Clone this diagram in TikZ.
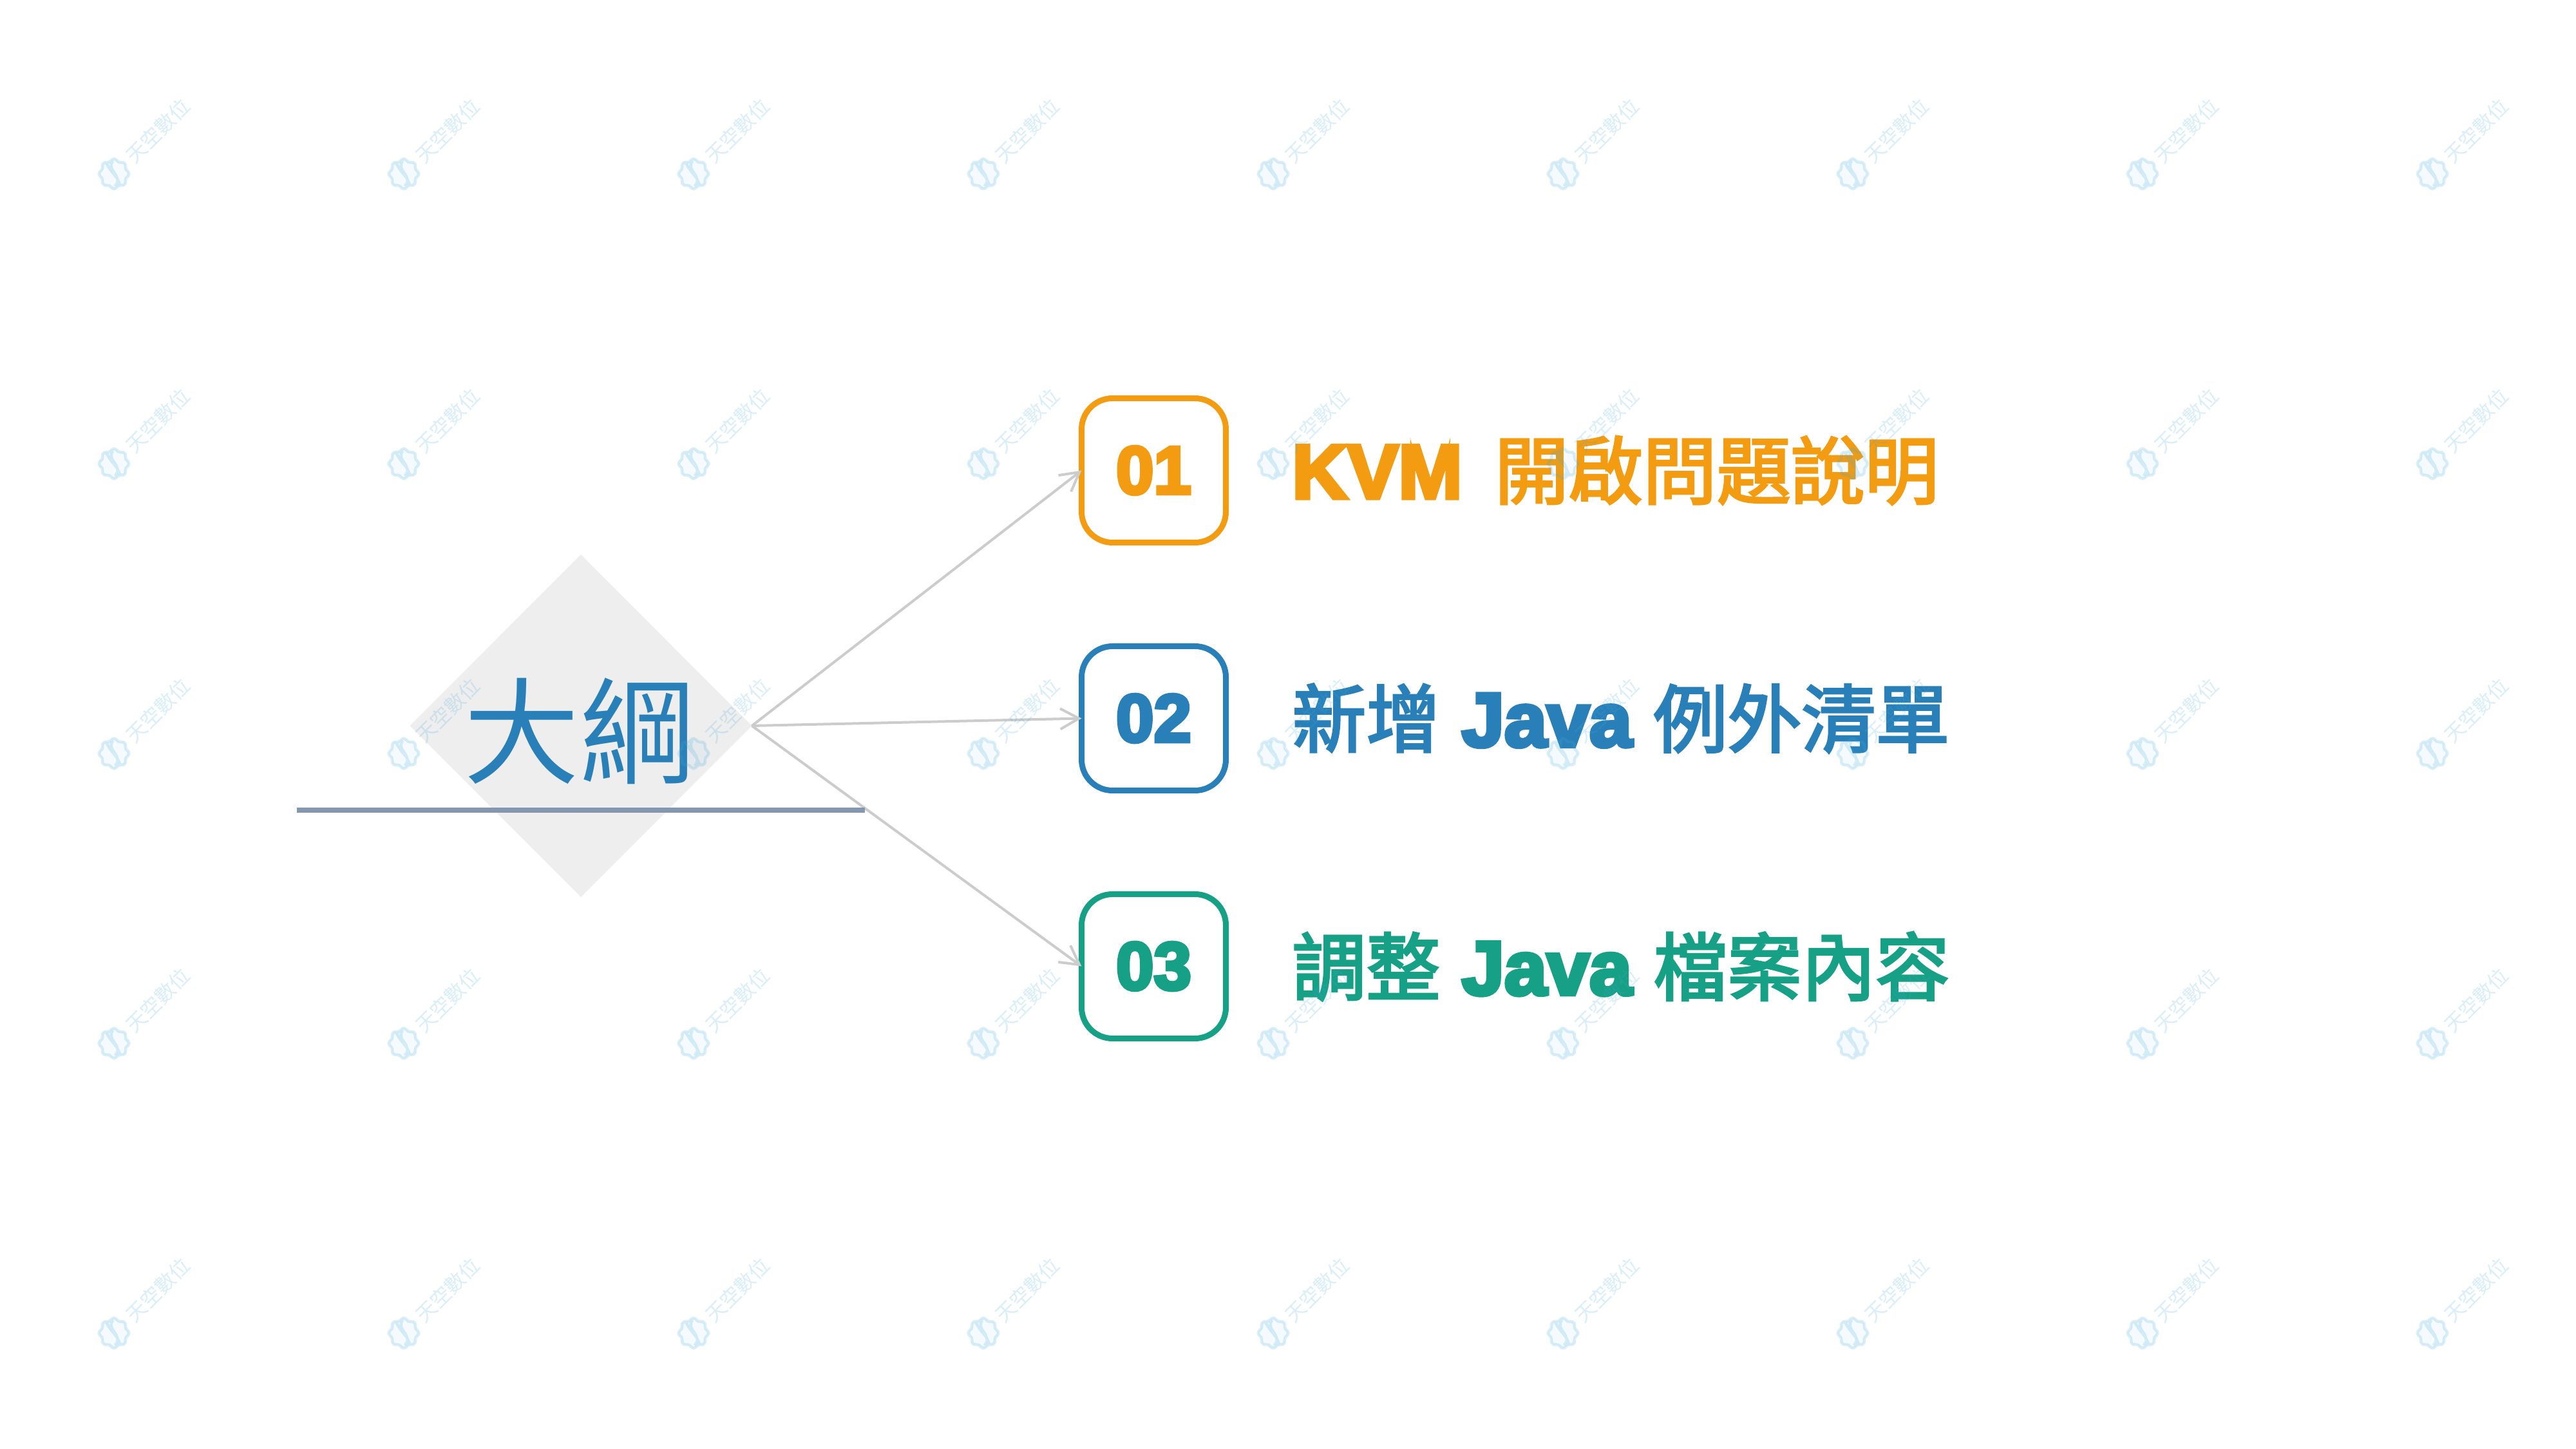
\documentclass[tikz,border=0pt]{standalone}
\usepackage{fontspec}
\usetikzlibrary{positioning,shapes.geometric,arrows.meta}
\setmainfont{Noto Sans CJK TC}
\newfontfamily\heavyfont[BoldFeatures={FakeBold=5}]{Liberation Sans}
\newfontfamily\cjkheavy[FakeBold=3, WordSpace=1.3]{Noto Sans CJK TC}
\newcommand{\lat}[1]{{\heavyfont\bfseries\fontsize{33.8}{36}\selectfont #1}}
\definecolor{orangec}{HTML}{F39C12}
\definecolor{bluec}{HTML}{2980B9}
\definecolor{greenc}{HTML}{16A085}
\definecolor{rulec}{HTML}{8497B0}
\definecolor{diamondc}{HTML}{EEEEEE}
\definecolor{arrowc}{HTML}{CCCCCC}
\definecolor{markc}{HTML}{3FA9DC}

\begin{document}
\begin{tikzpicture}[node distance={3.85cm},
	numbox/.style = {draw=#1, text=#1, line width=0.09cm, rounded corners=0.48cm, minimum size=2.24cm, inner sep=0pt, outer sep=0pt, font=\heavyfont\bfseries\fontsize{29.9}{32}\selectfont},
	rowtext/.style = {text=#1, inner sep=0pt, outer sep=0pt, font=\cjkheavy\fontsize{32.7}{36}\selectfont},
	link/.style = {draw=arrowc, line width=0.04cm, -{Straight Barb[length=0.29cm, width=0.32cm, line width=0.04cm]}},
	wmtext/.style = {text=markc, opacity=0.2, text opacity=0.2, inner sep=0pt, rotate=45, font=\fontsize{8.9}{9}\selectfont},
	wmlogo/.pic = {
		\draw[draw=markc, opacity=0.2, line width=0.045cm, fill=markc, fill opacity=0.06]
			plot[domain=0:350, samples=36, smooth cycle] ({(0.215+0.018*cos(8*\x))*cos(\x)}, {(0.215+0.018*cos(8*\x))*sin(\x)})
			(-0.12,0.17) .. controls (-0.02,-0.02) and (0.02,0.02) .. (0.10,-0.19)
			(-0.02,0.20) .. controls (-0.12,0.03) and (0.14,0.00) .. (0.02,-0.19);
	}]
	\useasboundingbox (0,0) rectangle (40,-22.5);
	\node[diamond, fill=diamondc, minimum width=5.31cm, minimum height=5.32cm, inner sep=0pt, outer sep=0pt] (diamond) at (9.02,-11.27) {};
	\node[text=bluec, inner sep=0pt, font=\fontsize{51}{54}\selectfont] (title) at (9.0,-11.35) {大綱};
	\node[numbox=orangec] (1) at (17.915,-7.305) {01};
	\node[numbox=bluec] (2) [below of=1] {02};
	\node[numbox=greenc] (3) [below of=2] {03};
	\node[rowtext=orangec] (text1) [right=1.03cm of 1] {\lat{KVM}\hspace{0.17cm} 開啟問題說明};
	\node[rowtext=bluec] (text2) [right=1.03cm of 2] {新增 \lat{Java} 例外清單};
	\node[rowtext=greenc] (text3) [right=1.03cm of 3] {調整 \lat{Java} 檔案內容};
	\coordinate (rule1) at (4.61,-12.58);
	\coordinate (rule2) at (13.43,-12.58);
	\draw[link] (diamond.east) -- (1.west);
	\draw[link] (diamond.east) -- (2.west);
	\draw[link] (diamond.east) -- (3.west);
	\draw[draw=rulec, line width=0.08cm] (rule1) -- (rule2);
	\foreach \i in {0,...,8} {
		\foreach \j in {0,...,4} {
			\pic at ({1.77+4.5*\i},{-2.7-4.5*\j}) {wmlogo};
			\node[wmtext] (wm\i\j) at ({2.45+4.5*\i},{-2.03-4.5*\j}) {天空數位};
		}
	}
\end{tikzpicture}
\end{document}
